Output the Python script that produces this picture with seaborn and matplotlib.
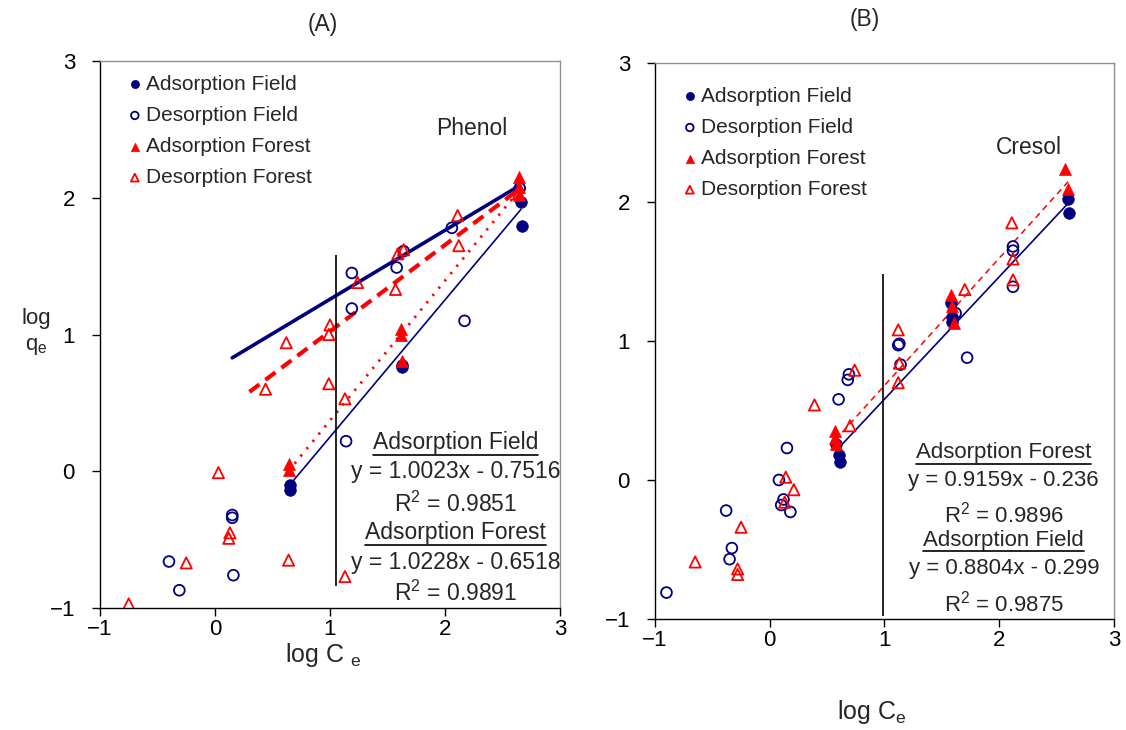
import numpy as np
import matplotlib
matplotlib.use("Agg")
import matplotlib.pyplot as plt
import seaborn as sns
from matplotlib.lines import Line2D

sns.set_theme(style="white")
plt.rcParams['font.family'] = ['Liberation Sans', 'DejaVu Sans']
plt.rcParams['mathtext.fontset'] = 'custom'
plt.rcParams['mathtext.rm'] = 'Liberation Sans'

NAVY = "#000080"
RED = "#FF0000"

# ---- panel A : phenol ----
a_ads_field_x = [0.65, 0.65, 1.63, 1.63, 2.66, 2.67]
a_ads_field_y = [-0.10, -0.14, 0.78, 0.76, 1.97, 1.79]
a_des_field_x = [-0.40, -0.31, 0.15, 0.15, 0.16, 1.14, 1.19, 1.19, 1.58, 1.64, 2.06, 2.17, 2.65]
a_des_field_y = [-0.66, -0.87, -0.32, -0.34, -0.76, 0.22, 1.45, 1.19, 1.49, 1.61, 1.78, 1.10, 2.07]
a_ads_forest_x = [0.64, 0.64, 1.62, 1.62, 1.63, 2.64, 2.64, 2.64]
a_ads_forest_y = [0.05, 0.01, 1.04, 1.00, 0.81, 2.15, 2.08, 2.02]
a_des_forest_x = [-0.75, -0.25, 0.03, 0.13, 0.12, 0.64, 0.44, 0.62, 1.00, 0.99, 0.99, 1.13,
                  1.13, 1.24, 1.57, 1.59, 1.64, 2.11, 2.12, 2.64]
a_des_forest_y = [-0.97, -0.67, -0.01, -0.45, -0.49, -0.65, 0.60, 0.94, 1.07, 1.00, 0.64, 0.53,
                  -0.77, 1.38, 1.33, 1.59, 1.62, 1.87, 1.65, 2.03]
# fitted lines: slope, intercept, x from, x to
a_fit_des_field = (0.504, 0.754, 0.15, 2.65)
a_fit_des_forest = (0.632, 0.391, 0.30, 2.64)
a_fit_ads_field = (1.0023, -0.7516, 0.65, 2.66)
a_fit_ads_forest = (1.0228, -0.6518, 0.64, 2.64)
a_marker_line = (1.05, -0.84, 1.58)

# ---- panel B : cresol ----
b_ads_field_x = [0.58, 0.60, 0.61, 1.58, 1.59, 1.59, 2.60, 2.61]
b_ads_field_y = [0.26, 0.18, 0.13, 1.27, 1.17, 1.14, 2.02, 1.92]
b_des_field_x = [-0.90, -0.38, -0.33, -0.35, 0.08, 0.10, 0.12, 0.15, 0.18, 0.60, 0.68, 0.69,
                 1.12, 1.13, 1.14, 1.62, 1.72, 2.12, 2.12, 2.12]
b_des_field_y = [-0.81, -0.22, -0.49, -0.57, 0.00, -0.18, -0.14, 0.23, -0.23, 0.58, 0.72, 0.76,
                 0.97, 0.98, 0.83, 1.20, 0.88, 1.68, 1.65, 1.39]
b_ads_forest_x = [0.57, 0.57, 0.58, 1.58, 1.59, 1.61, 2.57, 2.60]
b_ads_forest_y = [0.35, 0.30, 0.26, 1.33, 1.25, 1.13, 2.24, 2.09]
b_des_forest_x = [-0.65, -0.25, -0.28, -0.28, 0.13, 0.14, 0.21, 0.39, 0.70, 0.74, 1.12, 1.13,
                  1.12, 1.70, 2.11, 2.12, 2.12]
b_des_forest_y = [-0.59, -0.34, -0.64, -0.68, -0.16, 0.02, -0.07, 0.54, 0.39, 0.79, 1.08, 0.84,
                  0.70, 1.37, 1.85, 1.59, 1.44]
b_fit_ads_field = (0.8804, -0.299, 0.58, 2.60)
b_fit_ads_forest = (0.9159, -0.236, 0.57, 2.60)
b_marker_line = (0.99, -0.98, 1.48)

ticks = [-1, 0, 1, 2, 3]


def draw_points(ax, af, df, afo, dfo):
    sns.scatterplot(x=af[0], y=af[1], ax=ax, marker="o", color=NAVY, edgecolor=NAVY,
                    s=70, linewidth=0.5, label="Adsorption Field", zorder=3)
    sns.scatterplot(x=df[0], y=df[1], ax=ax, marker="o", facecolor="none", edgecolor=NAVY,
                    s=60, linewidth=1.3, label="Desorption Field", zorder=3)
    sns.scatterplot(x=afo[0], y=afo[1], ax=ax, marker="^", color=RED, edgecolor=RED,
                    s=75, linewidth=0.5, label="Adsorption Forest", zorder=3)
    sns.scatterplot(x=dfo[0], y=dfo[1], ax=ax, marker="^", facecolor="none", edgecolor=RED,
                    s=65, linewidth=1.3, label="Desorption Forest", zorder=3)


def fit_line(ax, fit, **kw):
    slope, icpt, x0, x1 = fit
    xs = np.array([x0, x1])
    sns.lineplot(x=xs, y=slope * xs + icpt, ax=ax, legend=False, **kw)


def style_axes(ax):
    ax.set_xlim(-1, 3)
    ax.set_ylim(-1, 3)
    ax.set_xticks(ticks)
    ax.set_yticks(ticks)
    ax.tick_params(axis="both", direction="out", length=6, width=1, colors="black",
                   labelsize=16, left=True, bottom=True)
    ax.tick_params(axis="y", pad=12)
    ax.tick_params(axis="x", pad=2)
    for s in ["left", "bottom"]:
        ax.spines[s].set_color("black")
        ax.spines[s].set_linewidth(1.0)
    for s in ["top", "right"]:
        ax.spines[s].set_color("#909090")
        ax.spines[s].set_linewidth(1.0)
    ax.set_xlabel("")
    ax.set_ylabel("")


def legend(ax, anchor):
    h, l = ax.get_legend_handles_labels()
    ax.legend(h, l, loc="upper left", bbox_to_anchor=anchor, frameon=False, fontsize=15,
              markerscale=0.7, handletextpad=0.05, labelspacing=0.58, borderaxespad=0,
              handlelength=1.0)


fig = plt.figure(figsize=(11.26, 7.30), dpi=100)
axA = fig.add_axes([0.0888, 0.1671, 0.4085, 0.7493])
axB = fig.add_axes([0.5817, 0.1521, 0.4076, 0.7616])

# panel A
draw_points(axA, (a_ads_field_x, a_ads_field_y), (a_des_field_x, a_des_field_y),
            (a_ads_forest_x, a_ads_forest_y), (a_des_forest_x, a_des_forest_y))
fit_line(axA, a_fit_des_field, color=NAVY, linewidth=2.6)
fit_line(axA, a_fit_des_forest, color=RED, linewidth=3, linestyle=(0, (3, 1.8)))
fit_line(axA, a_fit_ads_field, color=NAVY, linewidth=1.2)
fit_line(axA, a_fit_ads_forest, color=RED, linewidth=2, linestyle=(0, (0.8, 2.6)))
axA.vlines(a_marker_line[0], a_marker_line[1], a_marker_line[2], color="black", linewidth=1.2)
style_axes(axA)
legend(axA, (0.035, 0.99))
axA.text(2.23, 2.51, "Phenol", fontsize=16.5, ha="center", va="center")
txtA = [("Adsorption Field", 0.21, True), ("y = 1.0023x - 0.7516", 0.0, False),
        ("R$^2$ = 0.9851", -0.245, False), ("Adsorption Forest", -0.45, True),
        ("y = 1.0228x - 0.6518", -0.67, False), ("R$^2$ = 0.9891", -0.89, False)]

# panel B
draw_points(axB, (b_ads_field_x, b_ads_field_y), (b_des_field_x, b_des_field_y),
            (b_ads_forest_x, b_ads_forest_y), (b_des_forest_x, b_des_forest_y))
fit_line(axB, b_fit_ads_field, color=NAVY, linewidth=1.2)
fit_line(axB, b_fit_ads_forest, color=RED, linewidth=1.1, linestyle=(0, (4, 3)))
axB.vlines(b_marker_line[0], b_marker_line[1], b_marker_line[2], color="black", linewidth=1.2)
style_axes(axB)
legend(axB, (0.035, 0.972))
axB.text(2.26, 2.39, "Cresol", fontsize=16.5, ha="center", va="center")
txtB = [("Adsorption Forest", 0.195, True), ("y = 0.9159x - 0.236", -0.007, False),
        ("R$^2$ = 0.9896", -0.252, False), ("Adsorption Field", -0.432, True),
        ("y = 0.8804x - 0.299", -0.634, False), ("R$^2$ = 0.9875", -0.886, False)]

heads = []
for ax, items, xc, fs in [(axA, txtA, 2.09, 16.5), (axB, txtB, 2.04, 16)]:
    for s, y, ul in items:
        t = ax.text(xc, y, s, fontsize=fs, ha="center", va="center", zorder=4,
                    bbox=dict(facecolor="white", edgecolor="none", pad=0.5) if ul else None)
        if ul:
            heads.append(t)

fig.text(0.287, 0.966, "(A)", fontsize=16.5, ha="center", va="center")
fig.text(0.768, 0.973, "(B)", fontsize=16.5, ha="center", va="center")
fig.text(0.032, 0.545, "log\nq$_\\mathregular{e}$", fontsize=16, ha="center", va="center",
         linespacing=1.3)
fig.text(0.287, 0.103, "log C $_\\mathregular{e}$", fontsize=18, ha="center", va="center")
fig.text(0.774, 0.025, "log C$_\\mathregular{e}$", fontsize=18, ha="center", va="center")

# underline the regression headers
fig.canvas.draw()
inv = fig.transFigure.inverted()
for t in heads:
    bb = t.get_window_extent()
    (x0, y0), (x1, _) = inv.transform([(bb.x0, bb.y0), (bb.x1, bb.y1)])
    fig.add_artist(Line2D([x0, x1], [y0 - 0.001, y0 - 0.001], transform=fig.transFigure,
                          color="black", linewidth=1.2))

fig.savefig("out.png", dpi=100)
